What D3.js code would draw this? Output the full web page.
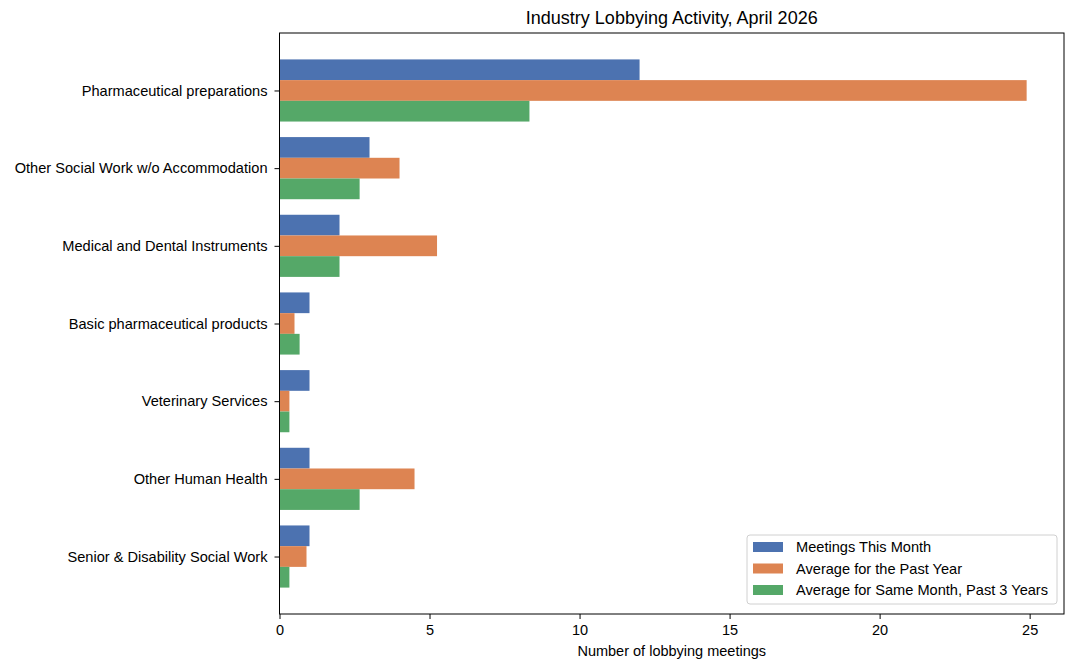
<!DOCTYPE html>
<html>
<head>
<script src="https://d3js.org/d3.v7.min.js"></script>
<style>
  body { margin: 0; background: white; }
  svg text { font-family: "Liberation Sans", Arial, sans-serif; fill: #000; }
</style>
</head>
<body>
<script>
var categories = [
  "Pharmaceutical preparations",
  "Other Social Work w/o Accommodation",
  "Medical and Dental Instruments",
  "Basic pharmaceutical products",
  "Veterinary Services",
  "Other Human Health",
  "Senior & Disability Social Work"
];
var seriesNames = ["Meetings This Month", "Average for the Past Year", "Average for Same Month, Past 3 Years"];
var thisMonth = [12, 3, 2, 1, 1, 1, 1];
var pastYear = [24.9, 4, 5.25, 0.5, 0.33, 4.5, 0.9];
var sameMonth3y = [8.33, 2.67, 2, 0.67, 0.33, 2.67, 0.33];
var colors = ["#4c72b0", "#dd8452", "#55a868"];
var xTicks = [0, 5, 10, 15, 20, 25];

var W = 1075, H = 670;
var m = {left: 279.5, top: 33, right: 1064, bottom: 614};

var svg = d3.select("body").append("svg").attr("width", W).attr("height", H);

var series = [thisMonth, pastYear, sameMonth3y];
var maxVal = d3.max(series, function(s) { return d3.max(s); });
var barH = 0.8 / 3;

var x = d3.scaleLinear().domain([0, maxVal * 1.05]).range([m.left, m.right]);
var pad = 0.05 * (categories.length - 1 + 0.8);
var y = d3.scaleLinear()
  .domain([-0.4 - pad, categories.length - 1 + 0.4 + pad])
  .range([m.top, m.bottom]);

// bars
series.forEach(function(s, j) {
  svg.append("g").selectAll("rect")
    .data(s)
    .enter().append("rect")
    .attr("x", x(0))
    .attr("y", function(d, i) { return y(i - 0.4 + j * barH); })
    .attr("width", function(d) { return x(d) - x(0); })
    .attr("height", y(barH) - y(0))
    .attr("fill", colors[j]);
});

// frame
svg.append("rect")
  .attr("x", m.left).attr("y", m.top)
  .attr("width", m.right - m.left).attr("height", m.bottom - m.top)
  .attr("fill", "none").attr("stroke", "#000").attr("stroke-width", 1);

// x axis
var xAxis = svg.append("g")
  .attr("transform", "translate(0," + m.bottom + ")")
  .call(d3.axisBottom(x).tickValues(xTicks).tickSize(5).tickPadding(6).tickFormat(d3.format("d")));
xAxis.select(".domain").remove();
xAxis.selectAll("text").style("font-size", "14.5px");

// y axis
var yAxis = svg.append("g")
  .attr("transform", "translate(" + m.left + ",0)")
  .call(d3.axisLeft(y).tickValues(d3.range(categories.length)).tickSize(5).tickPadding(7)
    .tickFormat(function(d) { return categories[d]; }));
yAxis.select(".domain").remove();
yAxis.selectAll("text").style("font-size", "14.6px");

// title and label
svg.append("text")
  .attr("x", (m.left + m.right) / 2).attr("y", 24)
  .attr("text-anchor", "middle")
  .style("font-size", "18px")
  .text("Industry Lobbying Activity, April 2026");

svg.append("text")
  .attr("x", (m.left + m.right) / 2).attr("y", 656)
  .attr("text-anchor", "middle")
  .style("font-size", "14.5px")
  .text("Number of lobbying meetings");

// legend
var lg = svg.append("g").attr("transform", "translate(747,535)");
lg.append("rect")
  .attr("width", 310).attr("height", 69).attr("rx", 3)
  .attr("fill", "white").attr("fill-opacity", 0.8)
  .attr("stroke", "#d0d0d0");
seriesNames.forEach(function(n, j) {
  var row = lg.append("g").attr("transform", "translate(0," + (12 + j * 21.5) + ")");
  row.append("rect").attr("x", 6).attr("y", -5).attr("width", 30).attr("height", 10).attr("fill", colors[j]);
  row.append("text").attr("x", 49).attr("y", 5).style("font-size", "14.6px").text(n);
});
</script>
</body>
</html>
